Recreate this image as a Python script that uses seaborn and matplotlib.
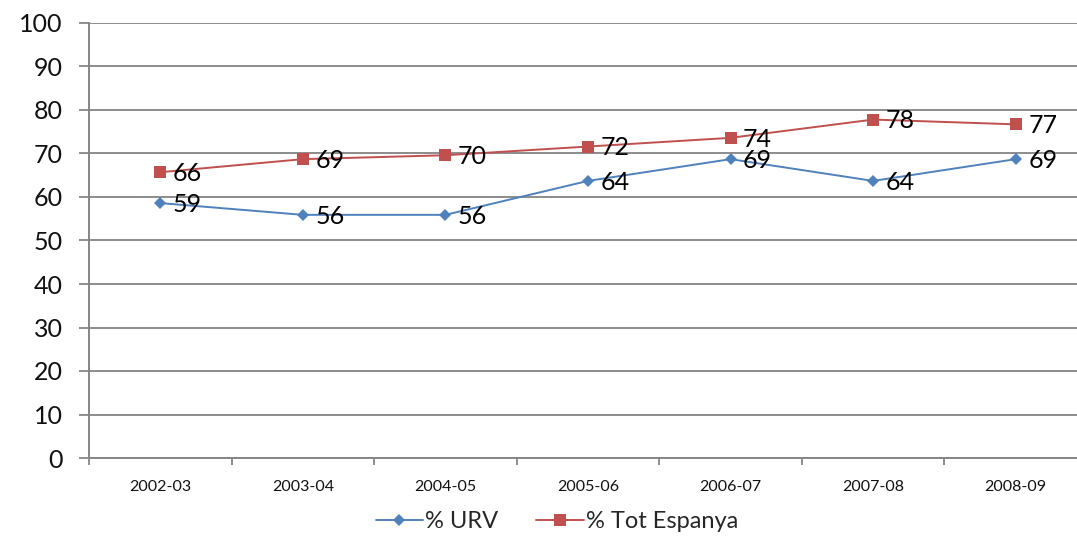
import numpy as np
import pandas as pd
import matplotlib
matplotlib.use("Agg")
import matplotlib.pyplot as plt
import seaborn as sns

years = ['2002-03', '2003-04', '2004-05', '2005-06', '2006-07', '2007-08', '2008-09']
urv = [58.6, 55.9, 55.9, 63.7, 68.7, 63.7, 68.7]
espanya = [65.7, 68.7, 69.6, 71.6, 73.6, 77.8, 76.7]
series_names = ['% URV', '% Tot Espanya']

df = pd.DataFrame({
    'year': years * 2,
    'pos': list(range(len(years))) * 2,
    'value': urv + espanya,
    'serie': [series_names[0]] * len(years) + [series_names[1]] * len(years),
})

sns.set_style("white")
plt.rcParams['font.family'] = ['Lato', 'DejaVu Sans']

fig = plt.figure(figsize=(10.77, 5.4), dpi=100)
ax = fig.add_axes([89 / 1077, 82 / 540, 998 / 1077, 435 / 540])

colors = {'% URV': '#4F81BD', '% Tot Espanya': '#C0504D'}
markers = {'% URV': 'D', '% Tot Espanya': 's'}
sizes = {'% URV': 6, '% Tot Espanya': 8}

sns.lineplot(data=df, x='pos', y='value', hue='serie', style='serie',
             palette=colors, markers=markers, dashes=False, linewidth=1.4,
             markersize=8, markeredgewidth=0, ax=ax, legend=False)
for line, name in zip(ax.get_lines(), series_names):
    line.set_markersize(sizes[name])

for name, vals in [('% URV', urv), ('% Tot Espanya', espanya)]:
    for i, v in enumerate(vals):
        ax.annotate(f'{round(v):d}', (i, v), xytext=(9, -1), textcoords='offset points',
                    ha='left', va='center', fontsize=18, color='black')

ax.set_xlim(-0.5, len(years) - 0.5)
ax.set_ylim(0, 100)
ax.set_yticks(np.arange(0, 101, 10))
ax.tick_params(axis='y', labelsize=18, length=7, width=1.3, color='#868686',
               direction='out', left=True, pad=12, labelcolor='#111111')
ax.set_xticks(range(len(years)))
ax.set_xticklabels(years, fontsize=11.5, color='#111111')
ax.set_xticks(np.arange(-0.5, len(years), 1), minor=True)
ax.tick_params(axis='x', which='major', length=0, pad=16)
ax.tick_params(axis='x', which='minor', length=5, width=1.3, color='#868686', direction='out', bottom=True)

ax.grid(axis='y', color='#8c8c8c', linewidth=1.4)
ax.grid(axis='x', visible=False)
for side in ['top', 'right']:
    ax.spines[side].set_visible(False)
for side in ['left', 'bottom']:
    ax.spines[side].set_color('#868686')
    ax.spines[side].set_linewidth(1.4)
ax.set_xlabel('')
ax.set_ylabel('')

handles = [plt.Line2D([], [], color=colors[n], marker=markers[n], markersize=sizes[n],
                      markeredgewidth=0, linewidth=1.4) for n in series_names]
fig.legend(handles, series_names, loc='center', bbox_to_anchor=(557 / 1077, 1 - 522 / 540),
           ncol=2, frameon=False, fontsize=17, handlelength=2.0, handletextpad=0.1,
           columnspacing=1.6)

fig.savefig('out.png', dpi=100)
